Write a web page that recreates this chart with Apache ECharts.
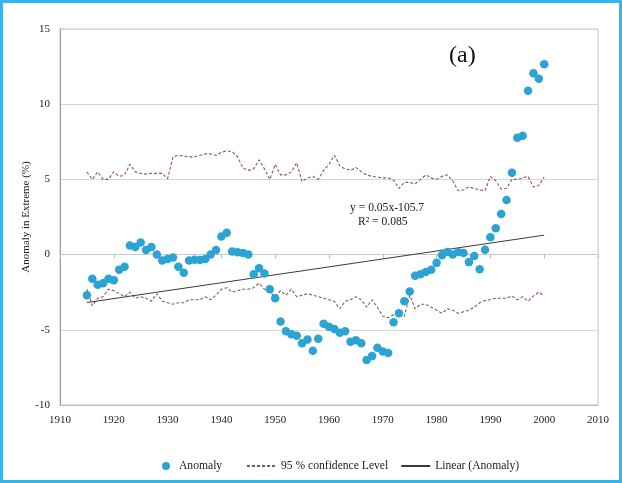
<!DOCTYPE html>
<html>
<head>
<meta charset="utf-8">
<script src="https://cdn.jsdelivr.net/npm/echarts@6/dist/echarts.min.js"></script>
<style>
  html, body { margin: 0; padding: 0; background: #fff; }
  #frame { width: 622px; height: 483px; box-sizing: border-box; border: 3px solid #35B6E8; background: #fff; }
  #chart { width: 616px; height: 477px; }
</style>
</head>
<body>
<div id="frame"><div id="chart"></div></div>
<script>
// Yearly anomaly in extremes (%), 1915-2000
const years = [];
for (let y = 1915; y <= 2000; y++) years.push(y);

const anomaly = [
  -2.7, -1.6, -2.0, -1.9, -1.6, -1.7, -1.0, -0.8, 0.6, 0.5,
  0.8, 0.3, 0.5, 0.0, -0.4, -0.3, -0.2, -0.8, -1.2, -0.4,
  -0.35, -0.36, -0.3, 0.0, 0.3, 1.2, 1.45, 0.2, 0.15, 0.1,
  0.0, -1.3, -0.9, -1.25, -2.3, -2.9, -4.45, -5.1, -5.3, -5.4,
  -5.9, -5.65, -6.4, -5.6, -4.6, -4.8, -4.95, -5.2, -5.1, -5.8,
  -5.7, -5.9, -7.0, -6.75, -6.2, -6.45, -6.55, -4.5, -3.9, -3.1,
  -2.45, -1.4, -1.3, -1.15, -1.0, -0.55, -0.05, 0.17, 0.0, 0.17,
  0.1, -0.5, -0.1, -0.98, 0.33, 1.15, 1.75, 2.7, 3.63, 5.45,
  7.77, 7.91, 10.9, 12.05, 11.7, 12.65
];

// Upper and lower 95 % confidence bounds
const upperConf = [
  5.5, 5.0, 5.5, 5.0, 5.0, 5.5, 5.2, 5.3, 6.0, 5.5,
  5.4, 5.35, 5.4, 5.4, 5.4, 5.05, 6.5, 6.6, 6.55, 6.5,
  6.5, 6.6, 6.7, 6.7, 6.6, 6.8, 6.9, 6.85, 6.5, 5.75,
  5.6, 5.7, 6.3, 5.7, 5.0, 6.0, 5.3, 5.3, 5.5, 6.1,
  4.85, 5.1, 5.2, 5.0, 5.6, 6.0, 6.6, 5.9, 5.7, 5.6,
  5.8, 5.5, 5.3, 5.2, 5.15, 5.1, 5.1, 4.95, 4.4, 4.8,
  4.8, 4.7, 5.0, 5.3, 5.1, 5.0, 5.2, 5.3, 4.9, 4.25,
  4.3, 4.5, 4.4, 4.3, 4.25, 5.2, 4.9, 4.35, 4.4, 5.0,
  5.0, 5.1, 5.2, 4.5, 4.6, 5.15
];

const lowerConf = [
  -2.3, -3.4, -2.9, -2.8, -2.3, -2.4, -2.6, -2.8, -2.5, -2.9,
  -2.8, -2.9, -3.1, -2.6, -3.1, -3.2, -3.3, -3.2, -3.2, -3.0,
  -3.0, -3.0, -2.8, -3.0, -2.7, -2.3, -2.2, -2.5, -2.4, -2.3,
  -2.3, -2.2, -1.9, -2.3, -2.5, -2.8, -2.4, -2.7, -2.3, -2.8,
  -2.7, -2.6, -2.7, -2.8, -2.9, -3.0, -3.1, -3.6, -3.1, -3.0,
  -2.8, -3.0, -3.5, -3.0, -3.5, -4.1, -4.2, -4.0, -3.8, -4.1,
  -2.7, -3.6, -3.3, -3.3, -3.5, -3.7, -3.9, -3.6, -3.7, -3.9,
  -3.8, -3.7, -3.5, -3.2, -3.05, -3.0, -2.9, -2.9, -2.9, -2.75,
  -3.0, -2.8, -3.1, -2.75, -2.5, -2.75
];

const xTicks = [1910, 1920, 1930, 1940, 1950, 1960, 1970, 1980, 1990, 2000, 2010];
const yTicks = [-10, -5, 0, 5, 10, 15];
const legendNames = ['Anomaly', '95 % confidence Level', 'Linear (Anomaly)'];
const equationText = ['y = 0.05x-105.7', 'R\u00B2 = 0.085'];
const panelLabel = '(a)';

// Least-squares trend of the anomaly series
const n = years.length;
const mx = years.reduce((s, v) => s + v, 0) / n;
const my = anomaly.reduce((s, v) => s + v, 0) / n;
let sxy = 0, sxx = 0;
for (let i = 0; i < n; i++) {
  sxy += (years[i] - mx) * (anomaly[i] - my);
  sxx += (years[i] - mx) * (years[i] - mx);
}
const slope = sxy / sxx;
const intercept = my - slope * mx;
const trendYears = [years[0], years[n - 1]];
const trend = trendYears.map(x => [x, slope * x + intercept]);

const serif = 'Liberation Serif';
const pair = (arr) => years.map((y, i) => [y, arr[i]]);
const dotColor = '#2BA3D3';
const confColor = '#915550';
const trendColor = '#3A3A3A';
const legendText = { color: '#222', fontSize: 11.6, fontFamily: serif };

const chart = echarts.init(document.getElementById('chart'), null, { renderer: 'canvas' });
chart.setOption({
  animation: false,
  backgroundColor: '#fff',
  textStyle: { fontFamily: serif },
  grid: {
    left: 57, top: 26, right: 21, bottom: 75,
    show: true, borderColor: '#C4C4C4', borderWidth: 1
  },
  xAxis: [
    {
      type: 'value', min: xTicks[0], max: xTicks[xTicks.length - 1], interval: 10,
      position: 'bottom',
      axisLine: { onZero: false, lineStyle: { color: '#BDBDBD' } },
      axisTick: { show: false },
      axisLabel: { color: '#222', fontSize: 11, fontFamily: serif, margin: 10, formatter: v => String(v) },
      splitLine: { show: false }
    },
    {
      type: 'value', min: xTicks[0], max: xTicks[xTicks.length - 1], interval: 10,
      position: 'bottom',
      axisLine: { onZero: true, lineStyle: { color: '#C8C8C8' } },
      axisTick: { show: true, inside: false, length: 4, lineStyle: { color: '#BDBDBD' } },
      axisLabel: { show: false },
      splitLine: { show: false }
    }
  ],
  yAxis: {
    type: 'value', min: yTicks[0], max: yTicks[yTicks.length - 1], interval: 5,
    name: 'Anomaly in Extreme (%)', nameLocation: 'middle', nameGap: 28, nameRotate: 90,
    nameMoveOverlap: false,
    nameTextStyle: { color: '#222', fontSize: 11, fontFamily: serif },
    axisLine: { show: true, lineStyle: { color: '#9E9E9E' } },
    axisTick: { show: false },
    axisLabel: { color: '#222', fontSize: 11, fontFamily: serif, margin: 10 },
    splitLine: { show: true, lineStyle: { color: '#D6D6D6', width: 1 } }
  },
  legend: [
    {
      left: 154, top: 452, itemWidth: 12, itemHeight: 8,
      textStyle: Object.assign({ padding: [0, 0, 0, 2] }, legendText),
      data: [{ name: legendNames[0], icon: 'circle', itemStyle: { color: dotColor } }]
    },
    {
      left: 238, top: 452, itemWidth: 29, itemHeight: 8, itemGap: 12,
      textStyle: legendText,
      data: [
        { name: legendNames[1], itemStyle: { opacity: 0 } },
        { name: legendNames[2], itemStyle: { opacity: 0 } }
      ]
    }
  ],
  series: [
    {
      name: legendNames[1], type: 'line', xAxisIndex: 0, data: pair(upperConf),
      symbol: 'none', lineStyle: { color: confColor, width: 1.1, type: [3, 2] },
      itemStyle: { color: confColor }, z: 2
    },
    {
      name: legendNames[1], type: 'line', xAxisIndex: 0, data: pair(lowerConf),
      symbol: 'none', lineStyle: { color: confColor, width: 1.1, type: [3, 2] },
      itemStyle: { color: confColor }, z: 2
    },
    {
      name: legendNames[2], type: 'line', xAxisIndex: 0, data: trend,
      symbol: 'none', lineStyle: { color: trendColor, width: 1 },
      itemStyle: { color: trendColor }, z: 3
    },
    {
      name: legendNames[0], type: 'scatter', xAxisIndex: 0, data: pair(anomaly),
      symbol: 'circle', symbolSize: 8.5,
      itemStyle: { color: dotColor, opacity: 1 }, z: 4
    }
  ],
  graphic: [
    {
      type: 'text', left: 446, top: 41,
      style: { text: panelLabel, font: '24px "Liberation Serif"', fill: '#111' }
    },
    {
      type: 'text', left: 347, top: 199,
      style: { text: equationText[0], font: '11.6px "Liberation Serif"', fill: '#222' }
    },
    {
      type: 'text', left: 355, top: 213,
      style: { text: equationText[1], font: '11.6px "Liberation Serif"', fill: '#222' }
    }
  ]
});
</script>
</body>
</html>
